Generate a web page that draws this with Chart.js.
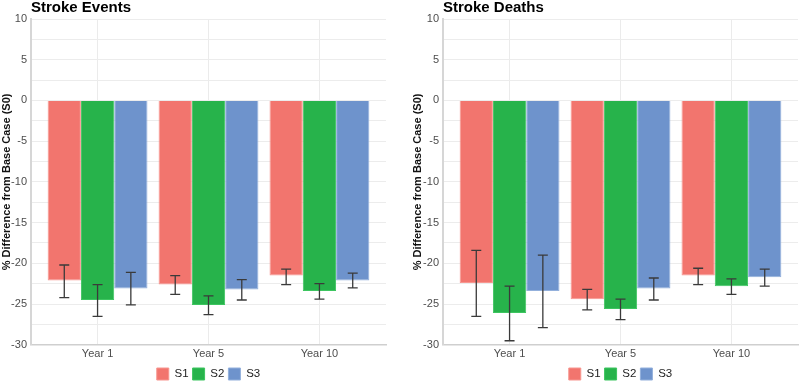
<!DOCTYPE html>
<html>
<head>
<meta charset="utf-8">
<script src="https://cdn.jsdelivr.net/npm/chart.js@4"></script>
<style>
  html, body { margin: 0; padding: 0; background: #fff; }
  .wrap { position: relative; width: 800px; height: 383px; }
  .panel { position: absolute; top: 0; height: 383px; }
  #pLeft { left: 0; width: 400px; }
  #pRight { left: 400px; width: 400px; }
</style>
</head>
<body>
<div class="wrap">
  <div class="panel" id="pLeft"><canvas id="chartEvents"></canvas></div>
  <div class="panel" id="pRight"><canvas id="chartDeaths"></canvas></div>
</div>
<script>
// categories and series
const years = ['Year 1', 'Year 5', 'Year 10'];
const seriesNames = ['S1', 'S2', 'S3'];

// Stroke Events: values and error bar bounds
const eventsS1 = [-22.1, -22.6, -21.5];
const eventsS2 = [-24.5, -25.1, -23.4];
const eventsS3 = [-23.1, -23.2, -22.1];
const eventsS1Lo = [-24.2, -23.8, -22.6], eventsS1Hi = [-20.2, -21.5, -20.7];
const eventsS2Lo = [-26.5, -26.3, -24.4], eventsS2Hi = [-22.6, -24.0, -22.5];
const eventsS3Lo = [-25.1, -24.5, -23.0], eventsS3Hi = [-21.1, -22.0, -21.2];

// Stroke Deaths: values and error bar bounds
const deathsS1 = [-22.4, -24.4, -21.5];
const deathsS2 = [-26.1, -25.6, -22.8];
const deathsS3 = [-23.4, -23.1, -21.7];
const deathsS1Lo = [-26.5, -25.7, -22.6], deathsS1Hi = [-18.4, -23.2, -20.6];
const deathsS2Lo = [-29.5, -26.9, -23.8], deathsS2Hi = [-22.8, -24.4, -21.9];
const deathsS3Lo = [-27.9, -24.5, -22.8], deathsS3Hi = [-19.0, -21.8, -20.7];

// y ticks
const yMin = -30, yMax = 10, yStep = 2.5, yLabelStep = 5;

const fills = ['#F2756E', '#27B34B', '#6E93CC'];
const edges = ['#F79690', '#3DC560', '#93B0DC'];
const FONT = '"Liberation Sans", Arial, sans-serif';

// draws the error bars from the dataset's lo/hi arrays through the y scale
const errorBars = {
    id: 'errorBars',
    afterDatasetsDraw(chart) {
        const ctx = chart.ctx, y = chart.scales.y;
        ctx.save();
        ctx.strokeStyle = '#3a3a3a';
        ctx.lineWidth = 1.3;
        chart.data.datasets.forEach((ds, i) => {
            const meta = chart.getDatasetMeta(i);
            meta.data.forEach((bar, j) => {
                const x = bar.x, half = bar.width * 0.15;
                const yl = y.getPixelForValue(ds.lo[j]), yh = y.getPixelForValue(ds.hi[j]);
                ctx.beginPath();
                ctx.moveTo(x, yl); ctx.lineTo(x, yh);
                ctx.moveTo(x - half, yl); ctx.lineTo(x + half, yl);
                ctx.moveTo(x - half, yh); ctx.lineTo(x + half, yh);
                ctx.stroke();
            });
        });
        ctx.restore();
    }
};

// title drawn at the left edge of the plot area
const panelTitle = {
    id: 'panelTitle',
    afterDraw(chart, args, opts) {
        const ctx = chart.ctx;
        ctx.save();
        ctx.font = 'bold 15px ' + FONT;
        ctx.fillStyle = '#000';
        ctx.textBaseline = 'middle';
        ctx.fillText(opts.text, chart.chartArea.left, 8);
        ctx.restore();
    }
};

function makeChart(id, title, vals, los, his, padLeft, padRight, yWidth) {
    return new Chart(document.getElementById(id), {
        type: 'bar',
        data: {
            labels: years,
            datasets: seriesNames.map((n, i) => ({
                label: n, data: vals[i], lo: los[i], hi: his[i],
                backgroundColor: fills[i], borderColor: edges[i], borderWidth: 1,
                categoryPercentage: 0.9, barPercentage: 1
            }))
        },
        options: {
            responsive: true, maintainAspectRatio: false, animation: false,
            layout: { padding: { top: 19, left: padLeft, right: padRight, bottom: -7 } },
            plugins: {
                legend: {
                    position: 'bottom', fullSize: false,
                    labels: { boxWidth: 12, boxHeight: 12, padding: 4, color: '#222', font: { family: FONT, size: 11.5 } }
                },
                tooltip: { enabled: false },
                panelTitle: { text: title }
            },
            scales: {
                x: {
                    // ggplot-like discrete expansion: 0.6 of a category each side
                    afterUpdate: s => { s._startValue = -0.6; s._valueRange = s.getLabels().length + 0.2; },
                    grid: { offset: false, color: '#ebebeb', drawTicks: false },
                    border: { color: '#cfcfcf', width: 1.5 },
                    ticks: { color: '#4d4d4d', padding: 3, font: { family: FONT, size: 11 } }
                },
                y: {
                    min: yMin, max: yMax,
                    afterFit: s => { s.width = yWidth; },
                    grid: { color: '#ececec', drawTicks: false },
                    border: { color: '#d6d6d6', width: 2 },
                    ticks: {
                        stepSize: yStep, color: '#4d4d4d', padding: 4, font: { family: FONT, size: 11 },
                        callback: v => (v % yLabelStep === 0 ? v : '')
                    },
                    title: { display: true, text: '% Difference from Base Case (S0)', color: '#111', padding: 0, font: { family: FONT, size: 11, weight: 'bold' } }
                }
            }
        },
        plugins: [errorBars, panelTitle]
    });
}

makeChart('chartEvents', 'Stroke Events',
    [eventsS1, eventsS2, eventsS3], [eventsS1Lo, eventsS2Lo, eventsS3Lo], [eventsS1Hi, eventsS2Hi, eventsS3Hi], 0, 14, 31);
makeChart('chartDeaths', 'Stroke Deaths',
    [deathsS1, deathsS2, deathsS3], [deathsS1Lo, deathsS2Lo, deathsS3Lo], [deathsS1Hi, deathsS2Hi, deathsS3Hi], 11, 2, 32);
</script>
</body>
</html>
